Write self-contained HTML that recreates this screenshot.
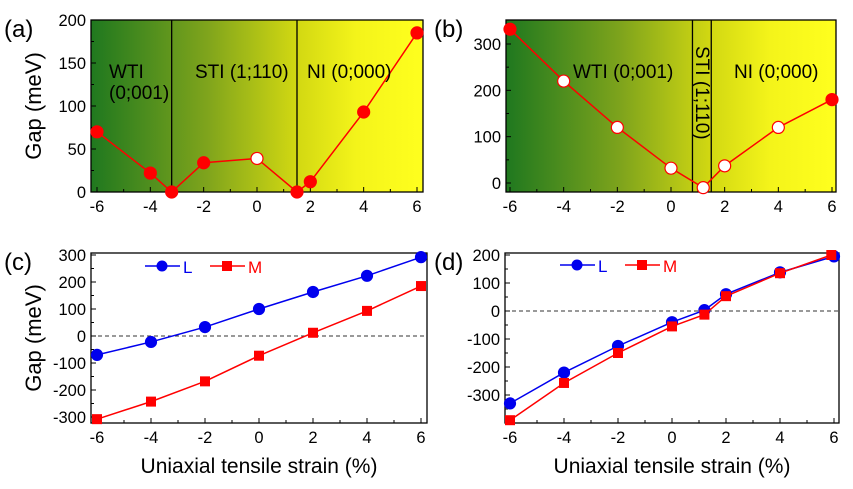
<!DOCTYPE html>
<html><head><meta charset="utf-8"><style>
html,body{margin:0;padding:0;background:#fff;}
svg{display:block;font-family:"Liberation Sans",Arial,sans-serif;}
</style></head><body>
<svg id="s" width="853" height="489" viewBox="0 0 853 489" xmlns="http://www.w3.org/2000/svg">
<defs>
<linearGradient id="g" x1="0" x2="1" y1="0" y2="0">
<stop offset="0" stop-color="#1f781f"/>
<stop offset="0.35" stop-color="#7fa41c"/>
<stop offset="0.62" stop-color="#d2d812"/>
<stop offset="0.8" stop-color="#f4f41a"/>
<stop offset="1" stop-color="#ffff1e"/>
</linearGradient>
</defs>
</svg>
<script>
const S=document.getElementById('s');const NS='http://www.w3.org/2000/svg';
function el(t,a,txt){const e=document.createElementNS(NS,t);for(const k in a)e.setAttribute(k,a[k]);if(txt!=null)e.textContent=txt;S.appendChild(e);return e;}
function panel(o){
 const X=v=>o.x0+(v+6)*(o.x6-o.x0)/12;
 const Y=v=>o.yA+(v-o.vA)*(o.yB-o.yA)/(o.vB-o.vA);
 if(o.grad) el('rect',{x:o.L,y:o.T,width:o.R-o.L,height:o.B-o.T,fill:'url(#g)'});
 (o.vlines||[]).forEach(v=>el('line',{x1:X(v),x2:X(v),y1:o.T,y2:o.B,stroke:'#000','stroke-width':1.3}));
 if(o.dash) el('line',{x1:o.L,x2:o.R,y1:Y(0),y2:Y(0),stroke:'#333','stroke-width':1,'stroke-dasharray':'4,3'});
 el('rect',{x:o.L,y:o.T,width:o.R-o.L,height:o.B-o.T,fill:'none',stroke:'#000','stroke-width':1.3});
 for(let v=-6;v<=6;v++){const l=v%2==0?5:3;el('line',{x1:X(v),x2:X(v),y1:o.B,y2:o.B-l,stroke:'#000'});
  if(v%2==0) el('text',{x:X(v),y:o.B+20,'text-anchor':'middle','font-size':16.5},v);}
 o.yt.forEach(v=>{el('line',{x1:o.L,x2:o.L+5,y1:Y(v),y2:Y(v),stroke:'#000'});el('text',{x:o.L-5,y:Y(v)+6,'text-anchor':'end','font-size':16.5},v);});
 (o.ym||[]).forEach(v=>el('line',{x1:o.L,x2:o.L+3,y1:Y(v),y2:Y(v),stroke:'#000'}));
 o.series.forEach(s=>{
  el('polyline',{points:s.pts.map(p=>X(p[0])+','+Y(p[1])).join(' '),fill:'none',stroke:s.c,'stroke-width':1.5});
  s.pts.forEach(p=>{const open=p[2];
   if(s.sq) el('rect',{x:X(p[0])-5,y:Y(p[1])-5,width:10,height:10,fill:s.c});
   else el('circle',{cx:X(p[0]),cy:Y(p[1]),r:s.r||6,fill:open?'#fff':s.c,stroke:s.c,'stroke-width':1.2});});
 });
 (o.texts||[]).forEach(t=>el('text',Object.assign({'font-size':19},t.a),t.s));
}
panel({L:91,R:423,T:20,B:192,x0:97,x6:417,yA:192,vA:0,yB:20,vB:200,grad:1,vlines:[-3.2,1.5],
 yt:[0,50,100,150,200],ym:[25,75,125,175],
 series:[{c:'#f00',r:6,pts:[[-6,70],[-4,22],[-3.2,0],[-2,34],[0,39,1],[1.5,0],[2,12],[4,93],[6,185]]}],
 texts:[{a:{x:109,y:78},s:'WTI'},{a:{x:109,y:99},s:'(0;001)'},{a:{x:195,y:78},s:'STI (1;110)'},{a:{x:307,y:78},s:'NI (0;000)'}]});
panel({L:506,R:836,T:20,B:192,x0:510,x6:832,yA:183,vA:0,yB:44,vB:300,grad:1,vlines:[0.8,1.5],
 yt:[0,100,200,300],ym:[50,150,250],
 series:[{c:'#f00',r:6,pts:[[-6,332],[-4,220,1],[-2,120,1],[0,32,1],[1.2,-10,1],[2,37,1],[4,120,1],[6,180]]}],
 texts:[{a:{x:573,y:78},s:'WTI (0;001)'},{a:{x:734,y:78},s:'NI (0;000)'},{a:{x:696,y:46,transform:'rotate(90 696 46)'},s:'STI (1;110)'}]});
panel({L:91,R:427,T:253,B:423,x0:97,x6:421,yA:336,vA:0,yB:255,vB:300,dash:1,
 yt:[-300,-200,-100,0,100,200,300],ym:[-250,-150,-50,50,150,250],
 series:[{c:'#0000ee',r:5.5,pts:[[-6,-70],[-4,-22],[-2,33],[0,100],[2,163],[4,223],[6,292]]},
 {c:'#f00',sq:1,pts:[[-6,-308],[-4,-243],[-2,-168],[0,-73],[2,12],[4,93],[6,185]]}]});
panel({L:505,R:839,T:253,B:423,x0:510,x6:834,yA:311,vA:0,yB:255,vB:200,dash:1,
 yt:[-300,-200,-100,0,100,200],ym:[-350,-250,-150,-50,50,150],
 series:[{c:'#0000ee',r:5.5,pts:[[-6,-330],[-4,-220],[-2,-125],[0,-40],[1.2,3],[2,60],[4,138],[6,195]]},
 {c:'#f00',sq:1,pts:[[-6,-390],[-4,-257],[-2,-150],[0,-55],[1.2,-13],[2,53],[4,135],[5.9,200]]}]});
function leg(x,y,c,sq,t){el('line',{x1:x,x2:x+35,y1:y,y2:y,stroke:c,'stroke-width':1.5});
 if(sq)el('rect',{x:x+12,y:y-5,width:10,height:10,fill:c});else el('circle',{cx:x+17,cy:y,r:5.5,fill:c});
 el('text',{x:x+38,y:y+7,'font-size':17,fill:c},t);}
leg(145,266,'#0000ee',0,'L');leg(210,266,'#f00',1,'M');
leg(560,265,'#0000ee',0,'L');leg(625,265,'#f00',1,'M');
[['(a)',4,37],['(b)',434,37],['(c)',4,270],['(d)',434,270]].forEach(a=>el('text',{x:a[1],y:a[2],'font-size':24},a[0]));
el('text',{x:41,y:106,'font-size':22,'text-anchor':'middle',transform:'rotate(-90 41 106)'},'Gap (meV)');
el('text',{x:41,y:338,'font-size':22,'text-anchor':'middle',transform:'rotate(-90 41 338)'},'Gap (meV)');
el('text',{x:259,y:473,'font-size':21,'text-anchor':'middle'},'Uniaxial tensile strain (%)');
el('text',{x:672,y:473,'font-size':21,'text-anchor':'middle'},'Uniaxial tensile strain (%)');
</script>
</body></html>
